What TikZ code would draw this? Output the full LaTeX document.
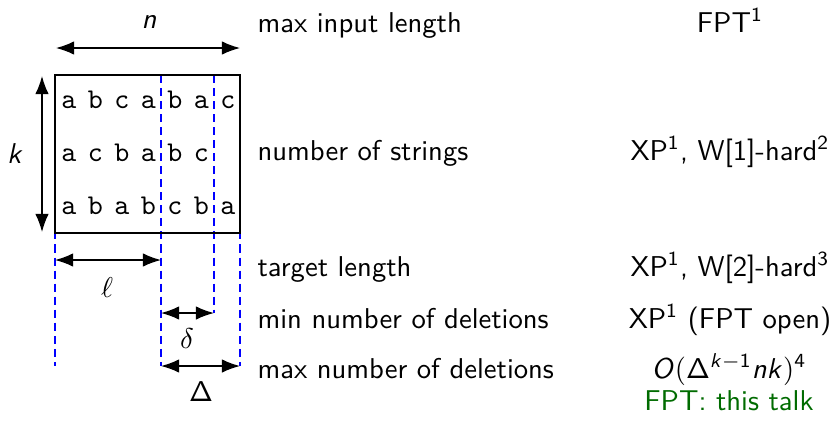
\documentclass[tikz,border=0pt]{standalone}
\usetikzlibrary{arrows.meta}
\DeclareMathAlphabet{\mathsfit}{OT1}{cmss}{m}{sl}
\definecolor{talkgreen}{rgb}{0,0.42,0}
\begin{document}
\begin{tikzpicture}[x=0.349pt,y=-0.349pt,font=\sffamily,
  dimarrow/.style={line width=0.5pt,{Latex[length=6.3pt,width=4.7pt]}-{Latex[length=6.3pt,width=4.7pt]}},
  guide/.style={blue,line width=0.4pt,dash pattern=on 2.8pt off 1.75pt},
  letter/.style={font=\ttfamily,anchor=base,inner sep=0pt},
  lefttext/.style={anchor=base west,inner sep=0pt},
  righttext/.style={anchor=base,inner sep=0pt},
  dimlabel/.style={anchor=base,inner sep=0pt}]
\useasboundingbox (0,0) rectangle (833,430);
% guide lines
\coordinate (g1t) at (55,75);  \coordinate (g1b) at (55,366);
\coordinate (g2t) at (161,75); \coordinate (g2b) at (161,366);
\coordinate (g3t) at (214,75); \coordinate (g3b) at (214,313);
\coordinate (g4t) at (240,75); \coordinate (g4b) at (240,366);
\draw[guide] (g1t) -- (g1b);
\draw[guide] (g2t) -- (g2b);
\draw[guide] (g3t) -- (g3b);
\draw[guide] (g4t) -- (g4b);
% box
\draw[line width=0.4pt] (55,75) rectangle (240,233);
% letters
\foreach \ch [count=\i from 0] in {a,b,c,a,b,a,c}
  \node[letter] (ra\i) at (69+26.5*\i,108) {\ch};
\foreach \ch [count=\i from 0] in {a,c,b,a,b,c}
  \node[letter] (rb\i) at (69+26.5*\i,161) {\ch};
\foreach \ch [count=\i from 0] in {a,b,a,b,c,b,a}
  \node[letter] (rc\i) at (69+26.5*\i,214) {\ch};
% dimension arrows
\coordinate (nL) at (56,48);  \coordinate (nR) at (240,48);
\coordinate (kT) at (42,76);  \coordinate (kB) at (42,232);
\coordinate (lL) at (55,260); \coordinate (lR) at (161,260);
\coordinate (dL) at (161,313); \coordinate (dR) at (214,313);
\coordinate (DL) at (161,366); \coordinate (DR) at (240,366);
\draw[dimarrow] (nL) -- (nR);
\draw[dimarrow] (kT) -- (kB);
\draw[dimarrow] (lL) -- (lR);
\draw[dimarrow] (dL) -- (dR);
\draw[dimarrow] (DL) -- (DR);
\node[dimlabel] (nlab) at (149,28) {\textit{n}};
\node[dimlabel] (klab) at (15,163) {\textit{k}};
\node[dimlabel] (llab) at (107,297) {$\ell$};
\node[dimlabel] (dlab) at (187,348) {$\delta$};
\node[dimlabel] (Dlab) at (201,401) {$\mathsf{\Delta}$};
% parameter names
\node[lefttext] (p1) at (257,32) {max input length};
\node[lefttext] (p2) at (257,160) {number of strings};
\node[lefttext] (p3) at (257,276) {target length};
\node[lefttext] (p4) at (257,328) {min number of deletions};
\node[lefttext] (p5) at (257,378) {max number of deletions};
% results
\node[righttext] (c1) at (730,32) {FPT\textsuperscript{1}};
\node[righttext] (c2) at (730,160) {XP\textsuperscript{1}, W[1]-hard\textsuperscript{2}};
\node[righttext] (c3) at (730,276) {XP\textsuperscript{1}, W[2]-hard\textsuperscript{3}};
\node[righttext] (c4) at (730,328) {XP\textsuperscript{1} (FPT open)};
\node[righttext] (c5) at (729,378) {$\mathsfit{O}(\mathsf{\Delta}^{\mathsfit{k}-\mathsf{1}}\mathsfit{nk})^{\mathsf{4}}$};
\node[righttext,text=talkgreen] (c6) at (729,410) {FPT: this talk};
\end{tikzpicture}
\end{document}
